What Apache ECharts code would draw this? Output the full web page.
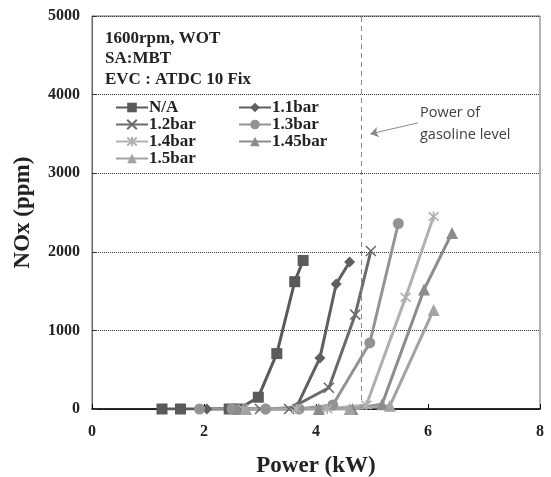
<!DOCTYPE html>
<html>
<head>
<meta charset="utf-8">
<script src="https://cdn.jsdelivr.net/npm/echarts@6/dist/echarts.min.js"></script>
<style>
  html, body { margin: 0; padding: 0; background: #fff; }
  #main { width: 551px; height: 477px; }
</style>
</head>
<body>
<div id="main"></div>
<script>
// series data: [power kW, NOx ppm]
var seriesNames = ["N/A", "1.1bar", "1.2bar", "1.3bar", "1.4bar", "1.45bar", "1.5bar"];
var dataNA = [[1.25, 0], [1.58, 0], [2.45, 0], [2.62, 0], [2.97, 150], [3.3, 705], [3.62, 1620], [3.77, 1890]];
var data11 = [[2.05, 0], [2.6, 0], [3.1, 0], [3.65, 20], [4.07, 650], [4.36, 1590], [4.6, 1870]];
var data12 = [[2.5, 0], [3.0, 0], [3.52, 0], [4.23, 270], [4.7, 1200], [4.98, 2010]];
var data13 = [[1.92, 0], [2.5, 0], [3.1, 0], [3.7, 0], [4.3, 50], [4.96, 840], [5.47, 2360]];
var data14 = [[2.7, 0], [3.65, 0], [4.2, 0], [4.9, 50], [5.6, 1420], [6.1, 2450]];
var data145 = [[2.6, 0], [4.05, 0], [4.65, 0], [5.18, 60], [5.93, 1520], [6.43, 2240]];
var data15 = [[2.75, 0], [4.6, 0], [5.32, 40], [6.1, 1260]];
var gasolinePower = 4.8;
var xTicks = [0, 2, 4, 6, 8];
var yTicks = [0, 1000, 2000, 3000, 4000, 5000];

var serif = "'Liberation Serif', 'Times New Roman', serif";
var xPath = "path://M0,0L10,10M10,0L0,10";
var starPath = "path://M0,0L10,10M10,0L0,10M5,-1L5,11";

function makeLine(name, data, color, symbol, size, stroke) {
  return {
    name: name,
    type: "line",
    data: data,
    symbol: symbol,
    symbolSize: size,
    lineStyle: { color: color, width: 3 },
    itemStyle: stroke
      ? { color: color, borderColor: color, borderWidth: 1.6 }
      : { color: color },
    emphasis: { disabled: true },
    animation: false,
    z: 3
  };
}

var legendText = {
  fontFamily: serif,
  fontWeight: "bold",
  fontSize: 17,
  lineHeight: 17,
  color: "#222",
  padding: [0, 0, 0, -4]
};

var myChart = echarts.init(document.getElementById("main"));
var series = [
  makeLine("N/A", dataNA, "#5a5a5a", "rect", 11),
  makeLine("1.1bar", data11, "#5f5f5f", "diamond", 11),
  makeLine("1.2bar", data12, "#6a6a6a", xPath, 10, true),
  makeLine("1.3bar", data13, "#939393", "circle", 11),
  makeLine("1.4bar", data14, "#b0b0b0", starPath, 10, true),
  makeLine("1.45bar", data145, "#8c8c8c", "triangle", 12),
  makeLine("1.5bar", data15, "#a3a3a3", "triangle", 12)
];
// gasoline level marker + arrow annotation
series[0].markLine = {
  silent: true,
  symbol: "none",
  label: { show: false },
  lineStyle: { color: "#8a8a8a", type: [5, 4], width: 1 },
  data: [{ xAxis: gasolinePower }]
};
series.push({
  type: "lines",
  coordinateSystem: "cartesian2d",
  silent: true,
  symbol: ["none", "arrow"],
  symbolSize: 8,
  lineStyle: { color: "#8a8a8a", width: 1, opacity: 1 },
  data: [{ coords: [[5.82, 3640], [4.97, 3500]] }],
  z: 4
});

var option = {
  backgroundColor: "#fff",
  animation: false,
  title: {
    text: "1600rpm, WOT\nSA:MBT\nEVC : ATDC 10 Fix",
    left: 100,
    top: 23,
    textStyle: {
      fontFamily: serif,
      fontWeight: "bold",
      fontSize: 17,
      lineHeight: 20.5,
      color: "#222"
    }
  },
  graphic: [
    {
      type: "text",
      left: 420,
      top: 102,
      style: {
        text: "Power of\ngasoline level",
        font: "14.5px 'Open Sans', 'Liberation Sans', sans-serif",
        lineHeight: 22,
        fill: "#404040"
      }
    }
  ],
  legend: [
    {
      data: ["N/A", "1.2bar", "1.4bar", "1.5bar"],
      orient: "vertical",
      left: 110,
      top: 94,
      itemGap: 0,
      itemWidth: 32,
      itemHeight: 12,
      selectedMode: false,
      textStyle: legendText
    },
    {
      data: ["1.1bar", "1.3bar", "1.45bar"],
      orient: "vertical",
      left: 233,
      top: 94,
      itemGap: 0,
      itemWidth: 32,
      itemHeight: 12,
      selectedMode: false,
      textStyle: legendText
    }
  ],
  grid: {
    left: 92,
    right: 11,
    top: 16,
    bottom: 68,
    outerBoundsMode: "none",
    show: true,
    borderColor: "#666",
    borderWidth: 1
  },
  xAxis: {
    type: "value",
    min: xTicks[0],
    max: xTicks[xTicks.length - 1],
    interval: 2,
    name: "Power (kW)",
    nameLocation: "middle",
    nameGap: 46,
    nameTextStyle: { fontFamily: serif, fontWeight: "bold", fontSize: 23, color: "#222" },
    axisLine: { show: true, lineStyle: { color: "#000", width: 1.5 } },
    axisTick: { show: true, inside: true, length: 5, lineStyle: { color: "#000" } },
    axisLabel: { margin: 15, fontFamily: serif, fontWeight: "bold", fontSize: 16, color: "#222" },
    splitLine: { show: false }
  },
  yAxis: {
    type: "value",
    min: yTicks[0],
    max: yTicks[yTicks.length - 1],
    interval: 1000,
    name: "NOx (ppm)",
    nameLocation: "middle",
    nameRotate: 90,
    nameGap: 57,
    nameTextStyle: { fontFamily: serif, fontWeight: "bold", fontSize: 23, color: "#222" },
    axisLine: { show: true, lineStyle: { color: "#666", width: 1 } },
    axisTick: { show: true, inside: true, length: 5, lineStyle: { color: "#333" } },
    axisLabel: {
      margin: 12,
      fontFamily: serif,
      fontWeight: "bold",
      fontSize: 16,
      color: "#222",
      formatter: function(v) { return String(v); }
    },
    splitLine: { show: true, lineStyle: { color: "#333", type: [1, 1], width: 1 } }
  },
  series: series
};
myChart.setOption(option);
</script>
</body>
</html>
